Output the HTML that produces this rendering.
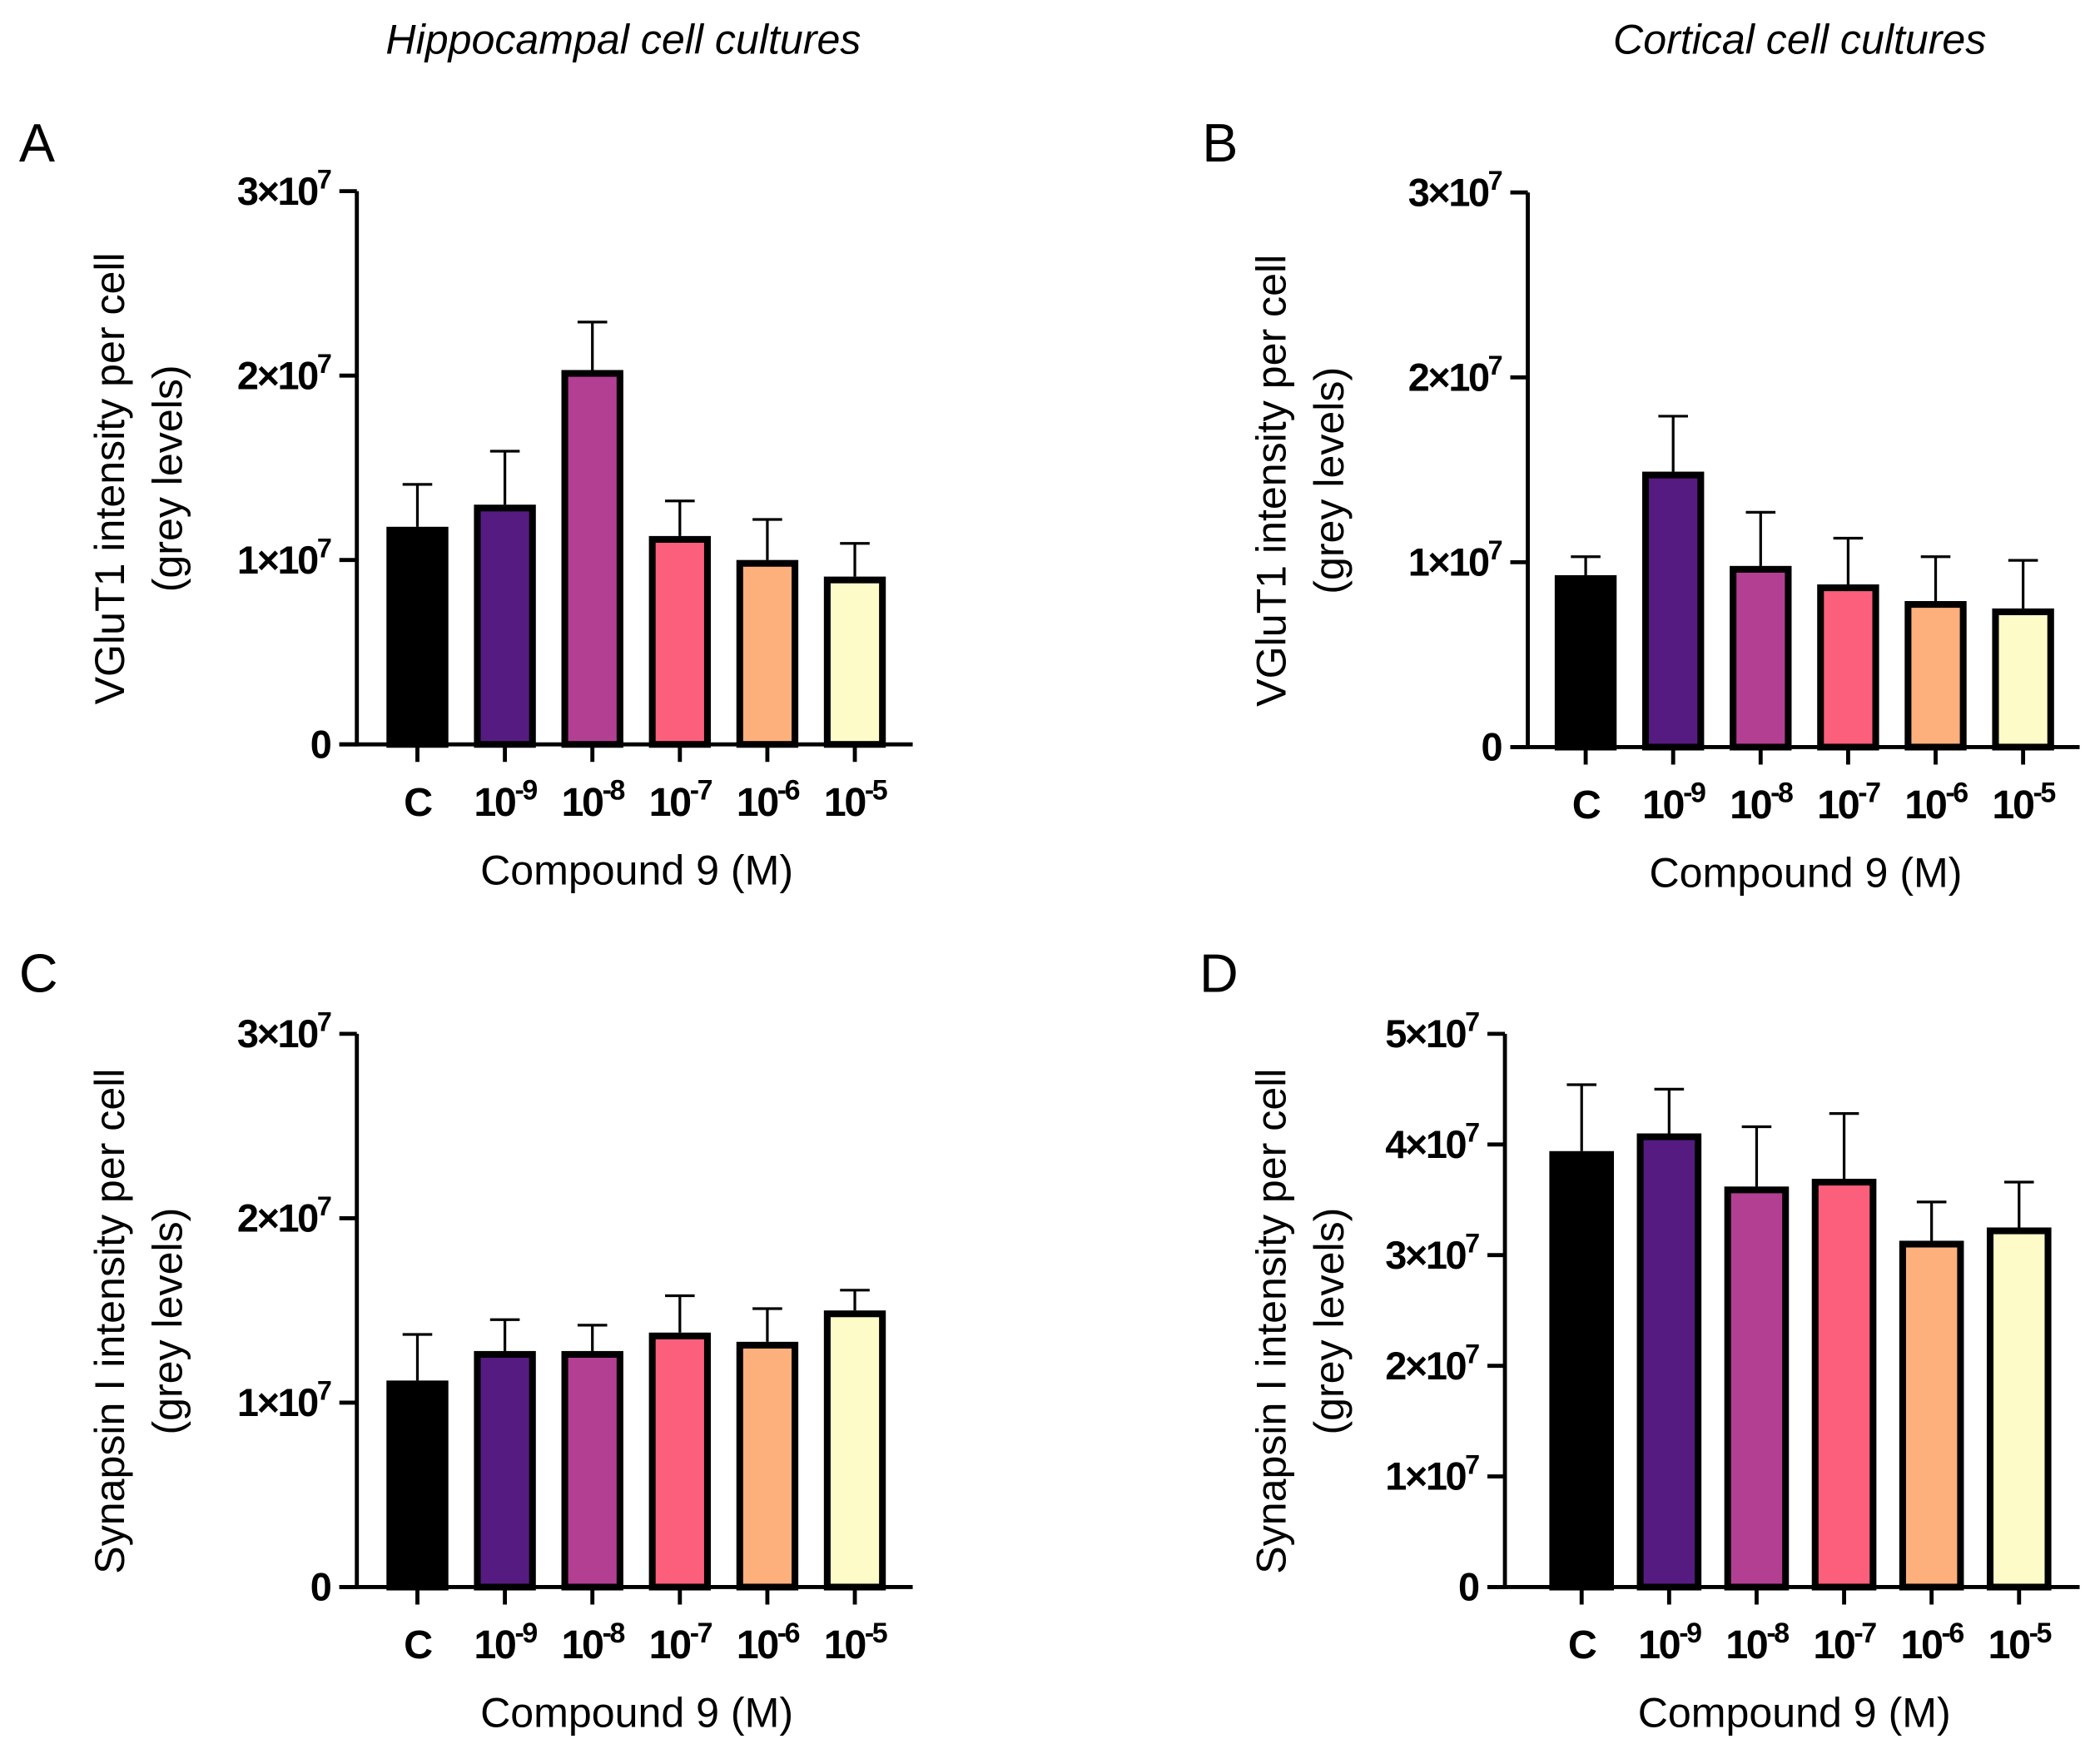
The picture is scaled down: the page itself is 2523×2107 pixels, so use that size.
<!DOCTYPE html>
<html><head><meta charset="utf-8"><style>
html,body{margin:0;padding:0;background:#fff;}
svg{display:block;}
text{font-family:"Liberation Sans",Arial,sans-serif;fill:#000;}
</style></head><body>
<svg id="fig" width="2523" height="2107" viewBox="0 0 1560 1303" xmlns="http://www.w3.org/2000/svg">
<text x="463" y="40" font-size="31" font-style="italic" text-anchor="middle">Hippocampal cell cultures</text>
<text x="1337" y="40" font-size="31" font-style="italic" text-anchor="middle">Cortical cell cultures</text>
<text x="14" y="120" font-size="40">A</text>
<text x="893" y="120" font-size="40">B</text>
<text x="14" y="737" font-size="40">C</text>
<text x="891" y="737" font-size="40">D</text>
</svg>
<script>
const categories = ["C", "-9", "-8", "-7", "-6", "-5"];
const colors = ["#000000", "#561b80", "#b33f93", "#fc5f7b", "#fdb07c", "#fdfbc8"];
const meanA = [11.8, 13.0, 20.3, 11.3, 10.0, 9.1];
const errA = [14.1, 15.9, 22.9, 13.2, 12.2, 10.9];
const meanB = [9.3, 14.9, 9.8, 8.8, 7.9, 7.5];
const errB = [10.3, 17.9, 12.7, 11.3, 10.3, 10.1];
const meanC = [11.2, 12.8, 12.8, 13.8, 13.3, 15.0];
const errC = [13.7, 14.5, 14.2, 15.8, 15.1, 16.1];
const meanD = [39.4, 41.0, 36.2, 36.9, 31.3, 32.5];
const errD = [45.4, 45.0, 41.6, 42.8, 34.8, 36.6];
const ticks3 = [0, 10, 20, 30];
const ticks5 = [0, 10, 20, 30, 40, 50];

const NS = "http://www.w3.org/2000/svg";
const svg = document.getElementById("fig");
function mk(tag, attrs, parent) {
  const e = document.createElementNS(NS, tag);
  for (const k in attrs) e.setAttribute(k, attrs[k]);
  (parent || svg).appendChild(e);
  return e;
}
function panel(id, cfg, means, errs, ticks, t1, t2) {
  const g = mk("g", {});
  
  
  const max = ticks[ticks.length - 1];
  const y = v => cfg.y0 - (v / max) * (cfg.y0 - cfg.yTop);
  const n = categories.length;
  const x = i => cfg.xc0 + i * cfg.step;
  for (let i = 0; i < n; i++) {
    const top = y(means[i]);
    const eb = mk("line", {x1: x(i), x2: x(i), y1: top, y2: y(errs[i]), stroke: "#000", "stroke-width": 2}, g);
    
    
    const cap = mk("line", {x1: x(i) - 11, x2: x(i) + 11, y1: y(errs[i]), y2: y(errs[i]), stroke: "#000", "stroke-width": 2}, g);
    
    
    const r = mk("rect", {x: x(i) - cfg.bw / 2 + 2.5, y: top + 2.5, width: cfg.bw - 5, height: cfg.y0 - top - 2.5, fill: colors[i], stroke: "#000", "stroke-width": 5}, g);
    
    
  }
  const ya = mk("line", {x1: cfg.ax, x2: cfg.ax, y1: cfg.yTop, y2: cfg.y0 + 1.5, stroke: "#000", "stroke-width": 3}, g);
  
  
  const xa = mk("line", {x1: cfg.xs, x2: cfg.xe, y1: cfg.y0, y2: cfg.y0, stroke: "#000", "stroke-width": 3}, g);
  
  
  ticks.forEach(t => {
    const tl = mk("line", {x1: cfg.ax - 13, x2: cfg.ax, y1: y(t), y2: y(t), stroke: "#000", "stroke-width": 3}, g);
    
    
    const tx = mk("text", {x: cfg.ax - 20, y: y(t) + 10, "font-size": 29, "font-weight": "bold", "text-anchor": "end", "letter-spacing": -1.5}, g);
    
    
    if (t === 0) tx.textContent = "0";
    else {
      tx.appendChild(document.createTextNode((t / 10) + "\u00d710"));
      const s = mk("tspan", {dy: -12, "font-size": 20}, tx);
      s.textContent = "7";
    }
  });
  for (let i = 0; i < n; i++) {
    const tl = mk("line", {x1: x(i), x2: x(i), y1: cfg.y0, y2: cfg.y0 + 13, stroke: "#000", "stroke-width": 3}, g);
    
    
    const tx = mk("text", {x: x(i), y: cfg.y0 + 53, "font-size": 30, "font-weight": "bold", "text-anchor": "middle", "letter-spacing": -1.5}, g);
    
    
    if (categories[i] === "C") tx.textContent = "C";
    else {
      tx.appendChild(document.createTextNode("10"));
      const s = mk("tspan", {dy: -12, "font-size": 21}, tx);
      s.textContent = categories[i];
    }
  }
  const xt = mk("text", {x: (cfg.xs + cfg.xe) / 2 + 8, y: cfg.y0 + 104, "font-size": 31, "text-anchor": "middle"}, g);
  
  
  xt.textContent = "Compound 9 (M)";
  const cy = (cfg.yTop + cfg.y0) / 2 + 8;
  const y1 = mk("text", {x: 0, y: 0, "font-size": 31, "text-anchor": "middle", transform: `translate(${cfg.tx + 10},${cy}) rotate(-90)`}, g);
  
  
  y1.textContent = t1;
  const y2 = mk("text", {x: 0, y: 0, "font-size": 31, "text-anchor": "middle", transform: `translate(${cfg.tx + 53},${cy}) rotate(-90)`}, g);
  
  
  y2.textContent = t2;
}
panel("a", {ax: 265, yTop: 142, y0: 553, xs: 252, xe: 678, xc0: 310, step: 65, bw: 46, tx: 82}, meanA, errA, ticks3, "VGluT1 intensity per cell", "(grey levels)");
panel("b", {ax: 1135, yTop: 143, y0: 555, xs: 1122, xe: 1545, xc0: 1178, step: 65, bw: 46, tx: 945}, meanB, errB, ticks3, "VGluT1 intensity per cell", "(grey levels)");
panel("c", {ax: 265, yTop: 768, y0: 1179, xs: 252, xe: 678, xc0: 310, step: 65, bw: 46, tx: 82}, meanC, errC, ticks3, "Synapsin I intensity per cell", "(grey levels)");
panel("d", {ax: 1118, yTop: 768, y0: 1179, xs: 1105, xe: 1545, xc0: 1175, step: 65, bw: 48, tx: 945}, meanD, errD, ticks5, "Synapsin I intensity per cell", "(grey levels)");
</script>
</body></html>
